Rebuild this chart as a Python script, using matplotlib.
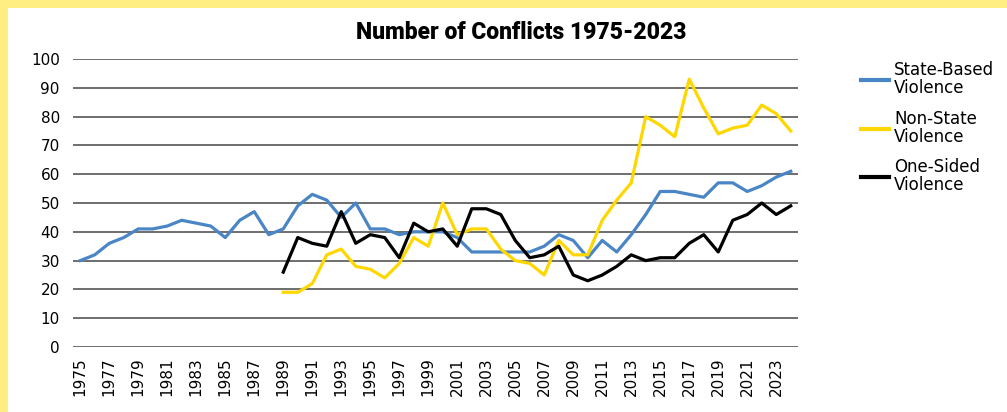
import matplotlib.pyplot as plt
from matplotlib.patches import Rectangle

# Data
years = list(range(1975, 2025))
state_based = [30, 32, 36, 38, 41, 41, 42, 44, 43, 42,
               38, 44, 47, 39, 41, 49, 53, 51, 45, 50,
               41, 41, 39, 40, 40, 40, 38, 33, 33, 33,
               33, 33, 35, 39, 37, 31, 37, 33, 39, 46,
               54, 54, 53, 52, 57, 57, 54, 56, 59, 61]
non_state_years = list(range(1989, 2025))
non_state = [19, 19, 22, 32, 34, 28, 27, 24, 29, 38,
             35, 50, 39, 41, 41, 34, 30, 29, 25, 37,
             32, 32, 44, 51, 57, 80, 77, 73, 93, 83,
             74, 76, 77, 84, 81, 75]
one_sided_years = list(range(1989, 2025))
one_sided = [26, 38, 36, 35, 47, 36, 39, 38, 31, 43,
             40, 41, 35, 48, 48, 46, 37, 31, 32, 35,
             25, 23, 25, 28, 32, 30, 31, 31, 36, 39,
             33, 44, 46, 50, 46, 49]
tick_years = list(range(1975, 2024, 2))

fig = plt.figure(figsize=(10.07, 4.12), dpi=100)
fig.patch.set_facecolor('#FFEE82')
# white panel inside the yellow frame
fig.patches.append(Rectangle((8 / 1007, 0), 1, 1 - 8 / 412, transform=fig.transFigure,
                             facecolor='white', edgecolor='none', zorder=-5))

ax = fig.add_axes([73 / 1007, 65 / 412, 725 / 1007, 288 / 412])
ax.set_zorder(2)
ax.patch.set_alpha(0)

ax.plot(years, state_based, color='#4A86C5', lw=2.3, label='State-Based\nViolence', zorder=3)
ax.plot(non_state_years, non_state, color='#FFD700', lw=2.3, label='Non-State\nViolence', zorder=3)
ax.plot(one_sided_years, one_sided, color='#000000', lw=2.3, label='One-Sided\nViolence', zorder=4)

ax.set_xlim(1974.5, 2024.5)
ax.set_ylim(0, 100)
ax.set_yticks(range(0, 101, 10))
ax.set_xticks(tick_years)
ax.set_xticklabels([str(y) for y in tick_years], rotation=90)
ax.tick_params(axis='both', length=0, labelsize=11, colors='black')
ax.tick_params(axis='y', pad=9.5)
ax.tick_params(axis='x', pad=7.5)
ax.yaxis.grid(True, color='#6e6e6e', lw=1.4)
ax.set_axisbelow(True)
for s in ax.spines.values():
    s.set_visible(False)

fig.text(0.518, 0.922, 'Number of Conflicts 1975-2023', ha='center', va='center',
         fontsize=16.5, fontweight='heavy', family=['Roboto', 'DejaVu Sans'])

leg = ax.legend(loc='upper left', bbox_to_anchor=(1.066, 1.045), frameon=False,
                fontsize=12, handlelength=1.7, handletextpad=0.3, labelspacing=0.75)
for line in leg.get_lines():
    line.set_linewidth(3)
for t in leg.get_texts():
    t.set_linespacing(1.0)

fig.savefig('out.png', dpi=100, facecolor=fig.get_facecolor())
